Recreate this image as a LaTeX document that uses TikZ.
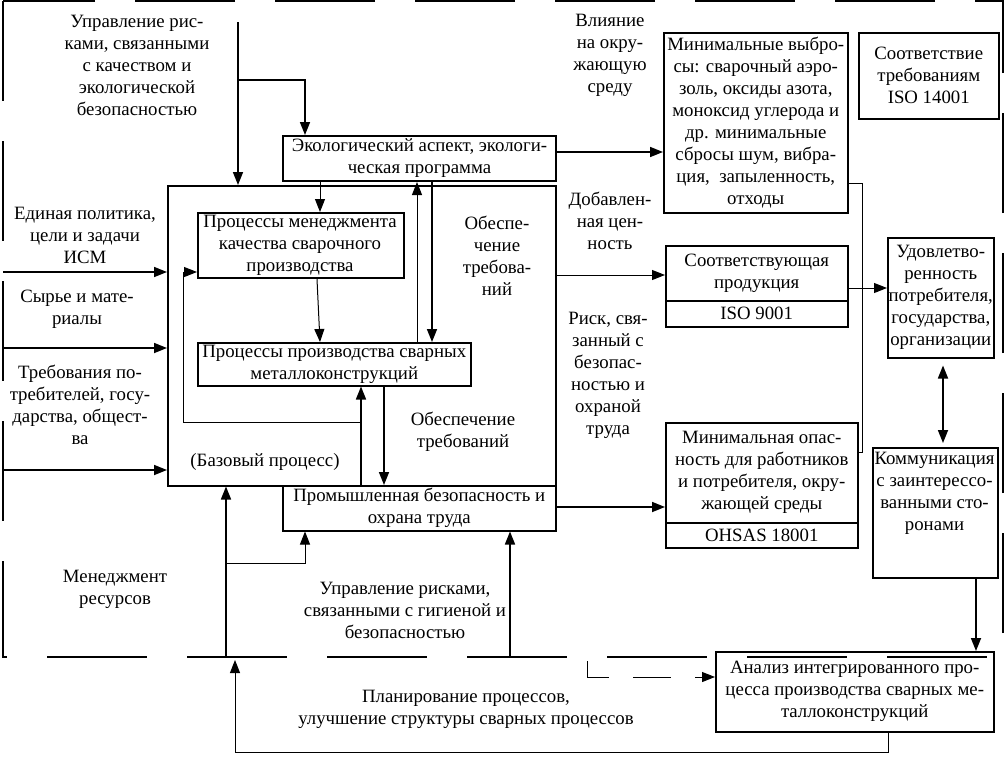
\documentclass[tikz,border=0pt]{standalone}
\usepackage{fontspec}
\setmainfont{Liberation Serif}
\usetikzlibrary{arrows.meta}
\begin{document}
\begin{tikzpicture}[x=1pt,y=-1pt,
  every node/.style={font=\fontsize{18.8}{22}\selectfont, align=center, inner sep=0pt},
  box/.style={draw, line width=1.5pt, anchor=north west, inner sep=0pt},
  arr/.style={line width=1.7pt, -{Triangle[length=13pt,width=10pt]}},
  tarr/.style={line width=1pt, -{Triangle[length=13pt,width=10pt]}},
  tline/.style={line width=1pt},
  border/.style={line width=2pt, dash pattern=on 100pt off 40pt},
]
\useasboundingbox (0,0) rectangle (1005,756);
% outer dashed frame
\draw[border] (3,1) rectangle (1003,657);

% boxes
\node[box, line width=2pt, minimum width=273pt, minimum height=45pt] (eco) at (282,135) {Экологический аспект, экологи-\\ческая программа};
\node[box, minimum width=388pt, minimum height=300pt] (base) at (167,185) {};
\node[box, line width=2.2pt, minimum width=206pt, minimum height=65pt] (qm) at (197,212) {};
\node (qmT) at (300,245) {Процессы менеджмента\\качества сварочного\\производства};
\node[box, minimum width=273pt, minimum height=43pt] (prod) at (197,342) {Процессы производства сварных\\металлоконструкций};
\node[box, minimum width=273pt, minimum height=45pt] (prom) at (282,485) {Промышленная безопасность и\\охрана труда};
\node[box, minimum width=184pt, minimum height=180pt] (emis) at (663,32) {Минимальные выбро-\\сы: сварочный аэро-\\золь, оксиды азота,\\моноксид углерода и\\др. минимальные\\сбросы шум, вибра-\\ция, \ запыленность,\\отходы};
\node[box, minimum width=140pt, minimum height=86pt] (iso) at (858,32) {Соответствие\\требованиям\\ISO 14001};
\node[box, minimum width=182pt, minimum height=55pt] (prodA) at (665,245) {Соответствующая\\продукция};
\node[box, minimum width=182pt, minimum height=26pt] (prodB) at (665,300) {ISO 9001};
\node[box, minimum width=192pt, minimum height=100pt] (dangA) at (665,422) {Минимальная опас-\\ность для работников\\и потребителя, окру-\\жающей среды};
\node[box, minimum width=192pt, minimum height=25pt] (dangB) at (665,522) {OHSAS 18001};
\node[box, minimum width=106pt, minimum height=120pt] (sat) at (887,237) {Удовлетво-\\ренность\\потребителя,\\государства,\\организации};
\node[box, minimum width=125pt, minimum height=130pt] (comm) at (872,447) {};
\node[anchor=north] (commT) at (934.5,452) {Коммуникация\\с заинтерессо-\\ванными сто-\\ронами};
\node[box, minimum width=278pt, minimum height=80pt] (anal) at (715,651) {Анализ интегрированного про-\\цесса производства сварных ме-\\таллоконструкций};

% free labels
\node (t1) at (137,65) {Управление рис-\\ками, связанными\\с качеством и\\экологической\\безопасностью};
\node (t2) at (85,235) {Единая политика,\\цели и задачи\\ИСМ};
\node (t3) at (77,309) {Сырье и мате-\\риалы};
\node (t4) at (80,405) {Требования по-\\требителей, госу-\\дарства, общест-\\ва};
\node (t5) at (115,589) {Менеджмент\\ресурсов};
\node (t6) at (265,462) {(Базовый процесс)};
\node (t7) at (497,256) {Обеспе-\\чение\\требова-\\ний};
\node (t8) at (463,432) {Обеспечение\\требований};
\node (t9) at (610,55) {Влияние\\на окру-\\жающую\\среду};
\node (t10) at (610,221) {Добавлен-\\ная цен-\\ность};
\node (t11) at (608,375) {Риск, свя-\\занный с\\безопас-\\ностью и\\охраной\\труда};
\node (t12) at (405,610) {Управление рисками,\\связанными с гигиеной и\\безопасностью};
\node (t13) at (466,709) {Планирование процессов,\\улучшение структуры сварных процессов};

% helper coordinates
\coordinate (in1) at (238,22);
\coordinate (br1) at (238,80);
\coordinate (cB) at (305,0);
\coordinate (cE) at (320,0);
\coordinate (cQ1) at (317,0);
\coordinate (cUp) at (417,0);
\coordinate (cDn) at (432,0);
\coordinate (cPD) at (384,0);
\coordinate (cPU) at (361,0);
\coordinate (fb) at (361,422);
\coordinate (fbL) at (183,272);
\coordinate (L1) at (3,272);
\coordinate (L2) at (3,348);
\coordinate (L3) at (3,470);
\coordinate (r1) at (226,657);
\coordinate (r2) at (226,563);
\coordinate (r3) at (510,657);
\coordinate (lp) at (235,752);
\coordinate (lpEnd) at (235,660);
\coordinate (cQ) at (888,0);
\coordinate (d1) at (587,661);
\coordinate (d2) at (587,677);
\coordinate (e1) at (0,152);
\coordinate (e2) at (0,275);
\coordinate (e3) at (0,507);
\coordinate (e4) at (862,183);
\coordinate (e5) at (862,452);
\coordinate (e6) at (0,288);
\coordinate (vS) at (943,0);
\coordinate (vC) at (976,0);

% connectors
\draw[arr] (in1) -- (in1 |- base.north);
\draw[arr] (br1) -| (cB |- eco.north);
\draw[tarr] (cE |- eco.south) -- (cE |- qm.north);
\draw[tarr] (cQ1 |- qm.south) -- (cE |- prod.north);
\draw[tarr] (cUp |- prod.north) -- (cUp |- eco.south);
\draw[arr] (cDn |- eco.south) -- (cDn |- prod.north);
\draw[arr] (cPD |- prod.south) -- (cPD |- prom.north);
\draw[arr] (cPU |- prom.north) -- (cPU |- prod.south);
\draw[tarr] (fb) -| (fbL) -- (fbL -| qm.west);
\draw[arr] (L1) -- (L1 -| base.west);
\draw[arr] (L2) -- (L2 -| base.west);
\draw[arr] (L3) -- (L3 -| base.west);
\draw[arr] (r1) -- (r1 |- base.south);
\draw[tarr] (r2) -| (cB |- prom.south);
\draw[arr] (r3) -- (r3 |- prom.south);
\draw[tarr] (cQ |- anal.south) |- (lp) -- (lpEnd);
\draw[tarr, dash pattern=on 38pt off 24pt] (d1) -- (d2) -- (d2 -| anal.west);
\draw[arr] (e1 -| eco.east) -- (e1 -| emis.west);
\draw[tarr] (e2 -| base.east) -- (e2 -| prodA.west);
\draw[arr] (e3 -| prom.east) -- (e3 -| dangA.west);
\draw[tline] (e4 -| emis.east) -- (e4) -- (e5) -- (e5 -| dangA.east);
\draw[tarr] (e6 -| prodA.east) -- (e6 -| sat.west);
\draw[line width=1.7pt, {Triangle[length=13pt,width=10pt]}-{Triangle[length=13pt,width=10pt]}, shorten <=7pt, shorten >=4pt] (vS |- sat.south) -- (vS |- comm.north);
\draw[arr] (vC |- comm.south) -- (vC |- anal.north);
\end{tikzpicture}
\end{document}
